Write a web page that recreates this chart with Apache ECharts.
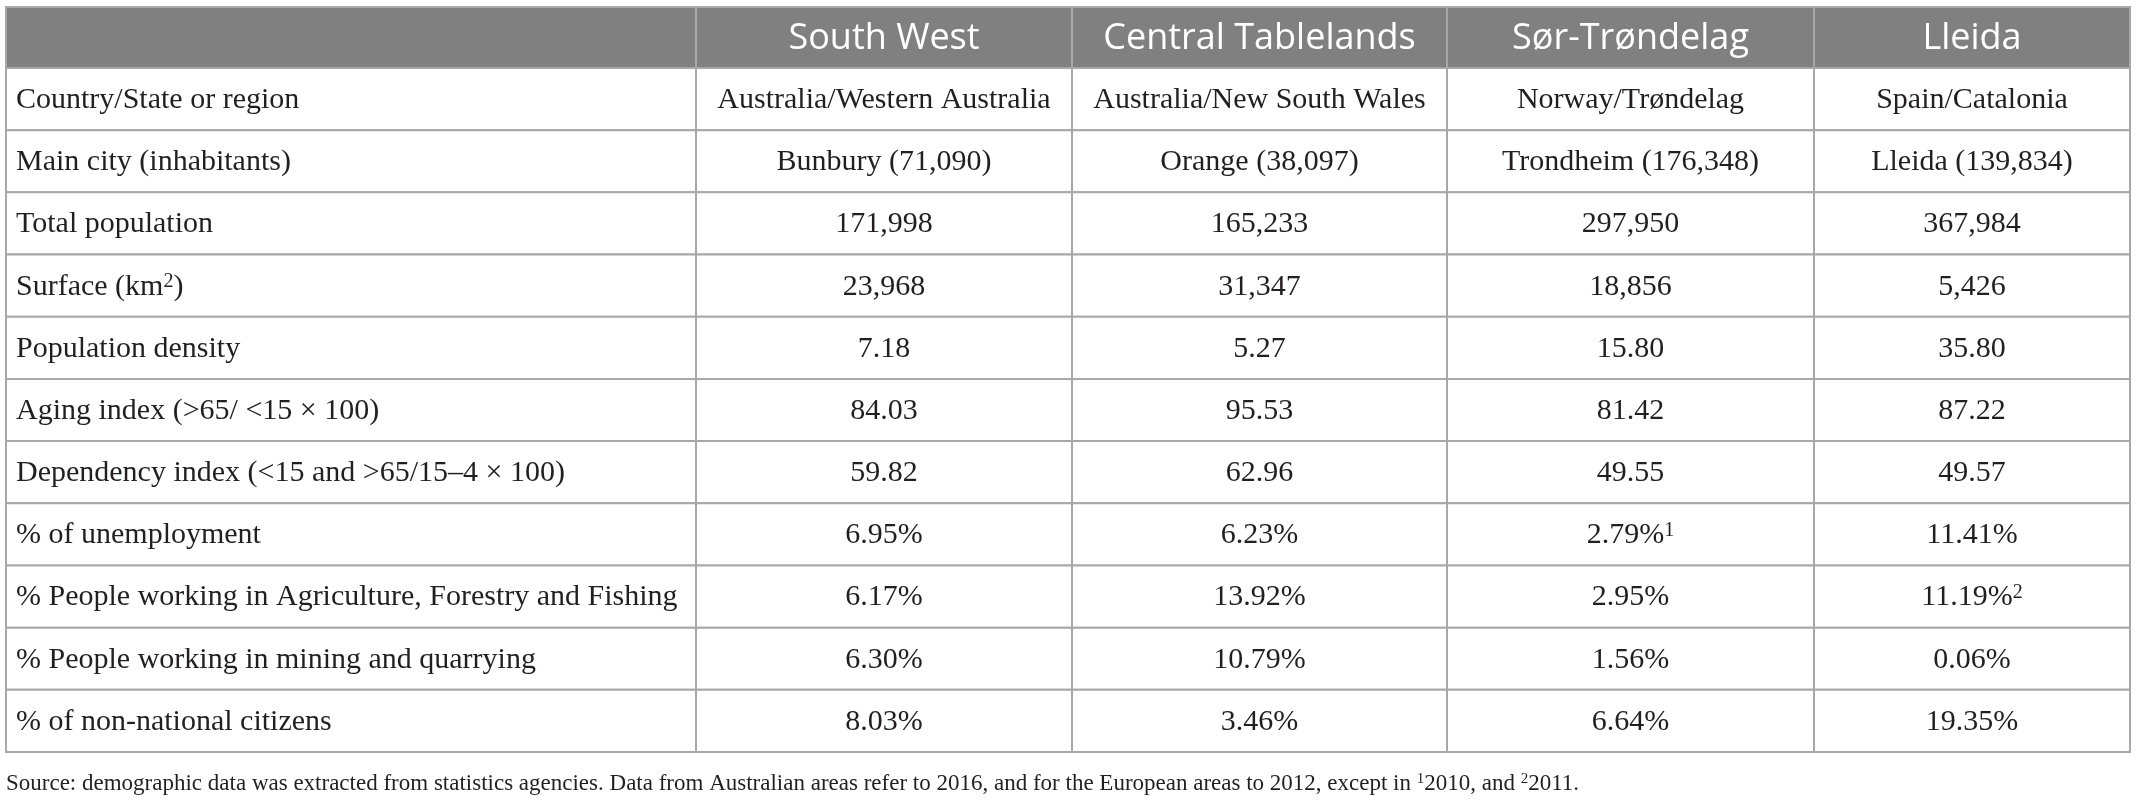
<!DOCTYPE html>
<html>
<head>
<meta charset="utf-8">
<script src="https://cdn.jsdelivr.net/npm/echarts@6/dist/echarts.min.js"></script>
<style>
html,body{margin:0;padding:0;background:#ffffff;}
#main{width:2137px;height:810px;}
</style>
</head>
<body>
<div id="main"></div>
<script>
// ---------- data ----------
const regions = ['South West', 'Central Tablelands', 'Sør-Trøndelag', 'Lleida'];
const indicators = [
  'Country/State or region',
  'Main city (inhabitants)',
  'Total population',
  'Surface (km\u00B2)',
  'Population density',
  'Aging index (>65/ <15 \u00D7 100)',
  'Dependency index (<15 and >65/15\u20134 \u00D7 100)',
  '% of unemployment',
  '% People working in Agriculture, Forestry and Fishing',
  '% People working in mining and quarrying',
  '% of non-national citizens'
];
const southWest = ['Australia/Western Australia', 'Bunbury (71,090)', '171,998', '23,968', '7.18', '84.03', '59.82', '6.95%', '6.17%', '6.30%', '8.03%'];
const centralTablelands = ['Australia/New South Wales', 'Orange (38,097)', '165,233', '31,347', '5.27', '95.53', '62.96', '6.23%', '13.92%', '10.79%', '3.46%'];
const sorTrondelag = ['Norway/Trøndelag', 'Trondheim (176,348)', '297,950', '18,856', '15.80', '81.42', '49.55', '2.79%\u00B9', '2.95%', '1.56%', '6.64%'];
const lleida = ['Spain/Catalonia', 'Lleida (139,834)', '367,984', '5,426', '35.80', '87.22', '49.57', '11.41%', '11.19%\u00B2', '0.06%', '19.35%'];
const footnote = 'Source: demographic data was extracted from statistics agencies. Data from Australian areas refer to 2016, and for the European areas to 2012, except in \u00B92010, and \u00B22011.';

// ---------- layout ----------
const columns = [indicators, southWest, centralTablelands, sorTrondelag, lleida];
const headers = [''].concat(regions);
const colEdges = [6, 696, 1072, 1447, 1814, 2130];
const tableTop = 7, headBottom = 68, tableBottom = 752;
const rowKeys = indicators.map((_, i) => 'r' + i);

const headerFill = '#808080';
const lineColor = '#a8a8a8';
const textColor = '#231f20';
const bodyFont = '"Liberation Serif", "DejaVu Serif", serif';
const headFont = '"Open Sans", "Noto Sans", sans-serif';
const bodySize = 30;

// turn unicode superscripts into rich-text tokens
function sup(t) {
  return t.replace(/\u00B9/g, '{s|1}').replace(/\u00B2/g, '{s|2}');
}
function richFor(size) {
  return {s: {fontFamily: bodyFont, fontSize: Math.round(size * 0.66), lineHeight: Math.round(size * 0.66), verticalAlign: 'top', fill: textColor}};
}

const grids = [], xAxes = [], yAxes = [], series = [];
let gi = 0;
columns.forEach((col, ci) => {
  const left = colEdges[ci], width = colEdges[ci + 1] - colEdges[ci];
  // header grid
  grids.push({left: left, width: width, top: tableTop, height: headBottom - tableTop});
  xAxes.push({type: 'category', gridIndex: gi, data: ['c'], show: false});
  yAxes.push({type: 'category', gridIndex: gi, data: ['h'], show: false});
  const headText = headers[ci];
  series.push({
    type: 'custom', xAxisIndex: gi, yAxisIndex: gi, silent: true,
    data: [[0, 0]],
    renderItem: function (params, api) {
      const c = api.coord([0, 0]);
      const s = api.size([1, 1]);
      return {
        type: 'group',
        children: [
          {type: 'rect', shape: {x: c[0] - s[0] / 2, y: c[1] - s[1] / 2, width: s[0], height: s[1]},
           style: {fill: headerFill, stroke: lineColor, lineWidth: 2}},
          {type: 'text', style: {text: headText, x: c[0], y: c[1] + 1, align: 'center', verticalAlign: 'middle',
           fontFamily: headFont, fontSize: 36, fill: '#ffffff'}}
        ]
      };
    }
  });
  gi++;
  // body grid
  grids.push({left: left, width: width, top: headBottom, height: tableBottom - headBottom});
  xAxes.push({type: 'category', gridIndex: gi, data: ['c'], show: false});
  yAxes.push({type: 'category', gridIndex: gi, data: rowKeys, inverse: true, show: false});
  series.push({
    type: 'custom', xAxisIndex: gi, yAxisIndex: gi, silent: true,
    data: col.map((t, ri) => [0, ri]),
    renderItem: function (params, api) {
      const ri = api.value(1);
      const c = api.coord([0, ri]);
      const s = api.size([1, 1]);
      const x0 = c[0] - s[0] / 2, y0 = c[1] - s[1] / 2;
      const leftAlign = ci === 0;
      return {
        type: 'group',
        children: [
          {type: 'rect', shape: {x: x0, y: y0, width: s[0], height: s[1]},
           style: {fill: '#ffffff', stroke: lineColor, lineWidth: 2}},
          {type: 'text', style: {
            text: sup(col[params.dataIndex]),
            rich: richFor(bodySize),
            x: leftAlign ? x0 + 10 : c[0],
            y: c[1] + 1,
            align: leftAlign ? 'left' : 'center',
            verticalAlign: 'middle',
            fontFamily: bodyFont, fontSize: bodySize, lineHeight: bodySize, fill: textColor}}
        ]
      };
    }
  });
  gi++;
});

const chart = echarts.init(document.getElementById('main'), null, {renderer: 'canvas'});
chart.setOption({
  animation: false,
  backgroundColor: '#ffffff',
  grid: grids,
  xAxis: xAxes,
  yAxis: yAxes,
  series: series,
  graphic: [{
    type: 'text',
    left: 6,
    top: 772,
    style: {text: sup(footnote), rich: richFor(23), fontFamily: bodyFont, fontSize: 23, lineHeight: 23, fill: textColor}
  }]
});
</script>
</body>
</html>
